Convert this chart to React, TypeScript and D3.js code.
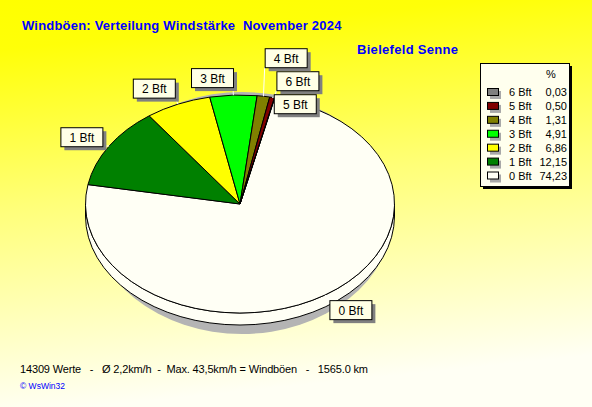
import { useEffect } from 'react';
import * as d3 from 'd3';

const W = 592, H = 407;
const FONT = "'Liberation Sans', Arial, sans-serif";

// data
const CATEGORIES = ['0 Bft', '1 Bft', '2 Bft', '3 Bft', '4 Bft', '5 Bft', '6 Bft'];
const PERCENT = [74.23, 12.15, 6.86, 4.91, 1.31, 0.5, 0.03];
const COLORS = ['#fffff5', '#008000', '#ffff00', '#00ff00', '#808000', '#800000', '#808080'];
const TITLE = 'Windböen: Verteilung Windstärke  November 2024';
const STATION = 'Bielefeld Senne';
const FOOTER = '14309 Werte   -   Ø 2,2km/h  -  Max. 43,5km/h = Windböen   -   1565.0 km';
const COPYRIGHT = '© WsWin32';

// pie geometry (ellipse, 3d)
const CX = 240, CY = 204, RX = 154.5, RY = 109, DEPTH = 12;
const START_DEG = 13;
const LBL_W = 42, LBL_H = 19, SHADOW = 4;

type Box = { x: number; y: number; i: number };

export default function App() {
  useEffect(() => { document.body.style.margin = '0'; }, []);

  const pie = d3.pie<number>().sort(null).value(d => d)
    .startAngle(START_DEG * Math.PI / 180).endAngle(START_DEG * Math.PI / 180 + 2 * Math.PI);
  const arcs = pie(PERCENT);
  const arc = d3.arc<d3.PieArcDatum<number>>().innerRadius(0).outerRadius(RX);
  const ex = (a: number, k = 0) => CX + (RX + k) * Math.sin(a);
  const ey = (a: number, k = 0, dy = 0) => CY + dy - (RY + k) * Math.cos(a);

  // visible side walls (front half: angles pi/2 .. 3pi/2, modulo 2pi)
  const sides: { d: string; c: string }[] = [];
  arcs.forEach((a, i) => {
    for (const off of [0, 2 * Math.PI, -2 * Math.PI]) {
      const s = Math.max(a.startAngle + off, Math.PI / 2);
      const e = Math.min(a.endAngle + off, 1.5 * Math.PI);
      if (e > s) {
        const large = e - s > Math.PI ? 1 : 0;
        const d = `M${ex(s)},${ey(s)} A${RX},${RY} 0 ${large} 1 ${ex(e)},${ey(e)}` +
          ` L${ex(e)},${ey(e, 0, DEPTH)} A${RX},${RY} 0 ${large} 0 ${ex(s)},${ey(s, 0, DEPTH)} Z`;
        sides.push({ d, c: COLORS[i] });
      }
    }
  });

  // labels: natural position outside the rim, then greedy collision avoidance
  const placed: Box[] = [];
  const hits = (b: Box) => placed.filter(p =>
    b.x < p.x + LBL_W + SHADOW && p.x < b.x + LBL_W + SHADOW &&
    b.y < p.y + LBL_H + SHADOW && p.y < b.y + LBL_H + SHADOW);
  const order = d3.range(arcs.length).reverse();
  order.forEach(i => {
    const a = arcs[i];
    const m = (a.startAngle + a.endAngle) / 2;
    const ax = ex(m, 8), ay = ey(m, 8);
    const x = Math.sin(m) >= 0 ? ax : ax - LBL_W;
    const y = ay - Math.cos(m) * LBL_H / 2 - LBL_H / 2;
    let b: Box = { x, y, i };
    let col = hits(b);
    if (col.length) {
      const down: Box = { x, y: d3.max(col, p => p.y + LBL_H + SHADOW)!, i };
      if (!hits(down).length) b = down;
      else {
        let up: Box = { x, y: d3.min(col, p => p.y - LBL_H - SHADOW)!, i };
        let guard = 0;
        while ((col = hits(up)).length && guard++ < 10)
          up = { x, y: d3.min(col, p => p.y - LBL_H - SHADOW)!, i };
        b = up;
      }
    }
    placed.push(b);
  });

  const leaders = placed.map(b => {
    const a = arcs[b.i];
    const m = (a.startAngle + a.endAngle) / 2;
    const x1 = ex(m), y1 = ey(m);
    const x2 = Math.max(b.x, Math.min(b.x + LBL_W, x1));
    const y2 = Math.max(b.y, Math.min(b.y + LBL_H, y1));
    return { x1, y1, x2, y2, i: b.i };
  });

  // legend
  const LG = { x: 480, y: 63, w: 89, h: 123 };
  const legendRows = d3.range(CATEGORIES.length).reverse();
  const rowY = d3.scalePoint<number>().domain(legendRows).range([92, 175.5]);
  const fmt = (v: number) => d3.format('.2f')(v).replace('.', ',');

  return (
    <svg width={W} height={H} viewBox={`0 0 ${W} ${H}`} style={{ display: 'block', fontFamily: FONT }}>
      <defs>
        <linearGradient id="bg" x1="0" y1="0" x2="0.15" y2="1">
          <stop offset="0" stopColor="#ffff00" />
          <stop offset="0.12" stopColor="#ffff08" />
          <stop offset="0.5" stopColor="#ffff78" />
          <stop offset="1" stopColor="#fffff4" />
        </linearGradient>
      </defs>
      <rect width={W} height={H} fill="url(#bg)" />

      <text x={22} y={30} fill="#0000ff" fontWeight="bold" fontSize={13} letterSpacing={0.2}
        style={{ whiteSpace: 'pre' }}>{TITLE}</text>
      <text x={357} y={54} fill="#0000ff" fontWeight="bold" fontSize={13} letterSpacing={0.3}>{STATION}</text>

      {/* shadow */}
      <ellipse cx={CX + 2} cy={CY + 9} rx={RX - 3} ry={RY + 12} fill="#b4b4b4" />
      {sides.map((s, k) => (
        <path key={k} d={s.d} fill={s.c} stroke="#000" strokeWidth={1} strokeLinejoin="round" />
      ))}
      <g transform={`translate(${CX},${CY}) scale(1,${RY / RX})`}>
        {arcs.map((a, i) => (
          <path key={i} d={arc(a) ?? ''} fill={COLORS[i]} stroke="#000" strokeWidth={1}
            vectorEffect="non-scaling-stroke" strokeLinejoin="round" />
        ))}
      </g>

      {leaders.map(l => (
        <line key={l.i} x1={l.x1} y1={l.y1} x2={l.x2} y2={l.y2} stroke="#fff" strokeWidth={1} />
      ))}
      {placed.map(b => (
        <g key={b.i} transform={`translate(${b.x},${b.y})`}>
          <rect x={SHADOW} y={SHADOW} width={LBL_W} height={LBL_H} fill="#808080" />
          <rect x={0.5} y={0.5} width={LBL_W} height={LBL_H} fill="#ffffe6" stroke="#000" strokeWidth={1} />
          <text x={LBL_W / 2 + 0.5} y={LBL_H / 2 + 5} textAnchor="middle" fontSize={12} fill="#000">
            {CATEGORIES[b.i]}
          </text>
        </g>
      ))}

      {/* legend */}
      <rect x={LG.x + 3} y={LG.y + 3} width={LG.w} height={LG.h} fill="#000" />
      <rect x={LG.x + 0.5} y={LG.y + 0.5} width={LG.w} height={LG.h} fill="#ffffee" stroke="#000" />
      <text x={551} y={78} fontSize={11} textAnchor="middle">%</text>
      {legendRows.map(i => (
        <g key={i} transform={`translate(0,${rowY(i)})`}>
          <rect x={490} y={-1} width={11} height={8} fill="#a8a8a8" />
          <rect x={487.5} y={-3.5} width={11} height={7} fill={COLORS[i]} stroke="#000" />
          <text x={509} y={4} fontSize={11}>{CATEGORIES[i]}</text>
          <text x={567} y={4} fontSize={11} textAnchor="end">{fmt(PERCENT[i])}</text>
        </g>
      ))}

      <text x={20} y={373} fontSize={11} fill="#000" textLength={348} lengthAdjust="spacing"
        style={{ whiteSpace: 'pre' }}>{FOOTER}</text>
      <text x={20} y={389} fontSize={8.5} fill="#0000ff">{COPYRIGHT}</text>
    </svg>
  );
}
